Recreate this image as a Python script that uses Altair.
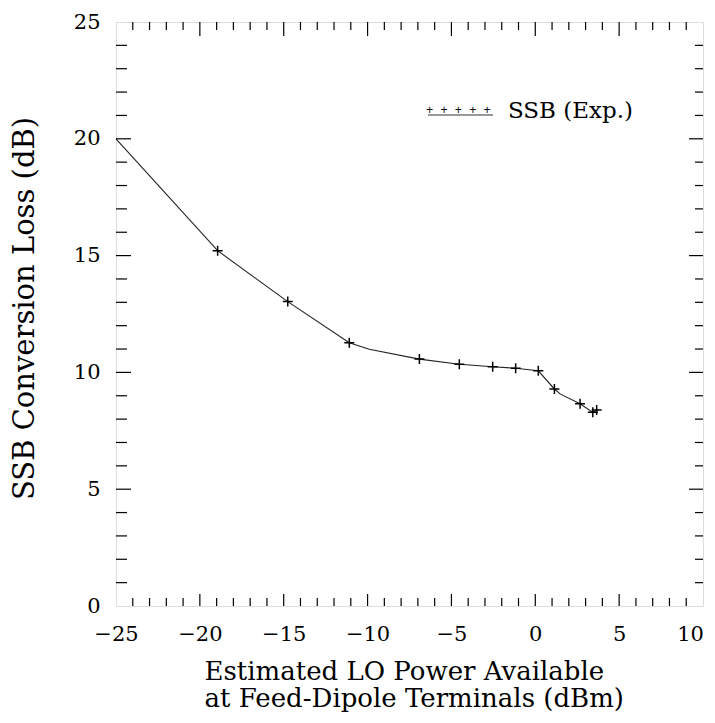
import altair as alt
import pandas as pd

# ---- data ----
line_x = [-25.0, -18.94, -14.76, -11.09, -9.9, -6.91, -4.53, -2.54, -1.17, 0.18, 1.14, 1.5, 2.67, 3.43, 3.66]
line_y = [20.0, 15.21, 13.03, 11.27, 10.99, 10.57, 10.35, 10.24, 10.18, 10.07, 9.29, 9.07, 8.66, 8.29, 8.39]
mark_x = [-18.94, -14.76, -11.09, -6.91, -4.53, -2.54, -1.17, 0.18, 1.14, 2.67, 3.43, 3.66]
mark_y = [15.21, 13.03, 11.27, 10.57, 10.35, 10.24, 10.18, 10.07, 9.29, 8.66, 8.29, 8.39]

x_labels = [-25, -20, -15, -10, -5, 0, 5, 10]
y_labels = [0, 5, 10, 15, 20, 25]
x_minor = [v for v in range(-24, 10) if v % 5 != 0]
x_major = [v for v in range(-20, 10) if v % 5 == 0]
y_minor = [v for v in range(1, 25) if v % 5 != 0]
y_major = [v for v in range(5, 25) if v % 5 == 0]

legend_label = "SSB (Exp.)"
legend_symbols = "+ + + + +"

W, H = 587, 584
SERIF = "DejaVu Serif"

xs = alt.Scale(domain=[-25, 10], nice=False, zero=False)
ys = alt.Scale(domain=[0, 25], nice=False, zero=False)

line_df = pd.DataFrame({"x": line_x, "y": line_y})
mark_df = pd.DataFrame({"x": mark_x, "y": mark_y})

x_axis = alt.Axis(values=x_labels, ticks=False, domain=False, grid=False,
                  labelFont=SERIF, labelFontSize=21, labelColor="black", labelPadding=17,
                  labelFlush=False, labelOverlap=False,
                  labelOffset={"condition": {"test": "datum.value === 10", "value": -13}, "value": 0},
                  title=["Estimated LO Power Available", "at Feed-Dipole Terminals (dBm)"],
                  titleFont=SERIF, titleFontSize=26, titleFontWeight="normal", titleColor="black",
                  titleAlign="left", titleAnchor="start", titleBaseline="alphabetic",
                  titleX=88, titleY=73, titleLineHeight=27)
y_axis = alt.Axis(values=y_labels, ticks=False, domain=False, grid=False,
                  labelFont=SERIF, labelFontSize=21, labelColor="black", labelPadding=16,
                  labelFlush=False, labelOverlap=False,
                  title="SSB Conversion Loss (dB)",
                  titleFont=SERIF, titleFontSize=29, titleFontWeight="normal", titleColor="black",
                  titleAngle=-90, titleAlign="center", titleBaseline="alphabetic",
                  titleX=-83, titleY=H / 2 - 6)

line = alt.Chart(line_df).mark_line(color="#222222", strokeWidth=1.1).encode(
    x=alt.X("x:Q", scale=xs, axis=x_axis),
    y=alt.Y("y:Q", scale=ys, axis=y_axis),
    order=alt.Order("x:Q"),
)

plus_path = "M-1,0L1,0M0,-1L0,1"
marks = alt.Chart(mark_df).mark_point(shape=plus_path, size=100, filled=False,
                                      color="black", strokeWidth=1.5, opacity=1).encode(
    x=alt.X("x:Q", scale=xs), y=alt.Y("y:Q", scale=ys))

def xticks(vals, y0, y1):
    return alt.Chart(pd.DataFrame({"v": vals})).mark_rule(color="black", strokeWidth=1.2).encode(
        x=alt.X("v:Q", scale=xs), y=alt.value(y0), y2=alt.value(y1))

def yticks(vals, x0, x1):
    return alt.Chart(pd.DataFrame({"v": vals})).mark_rule(color="black", strokeWidth=1.2).encode(
        y=alt.Y("v:Q", scale=ys), x=alt.value(x0), x2=alt.value(x1))

ticks = [
    xticks(x_minor, H, H - 8), xticks(x_major, H, H - 12),
    xticks(x_minor, 0, 8), xticks(x_major, 0, 14),
    yticks(y_minor, 0, 11), yticks(y_major, 0, 15),
    yticks(y_minor, W, W - 8), yticks(y_major, W, W - 14),
]

leg_plus = alt.Chart(pd.DataFrame({"t": [legend_symbols]})).mark_text(
    font="Liberation Mono", fontSize=12, align="left", baseline="middle", color="black").encode(
    text="t:N", x=alt.value(310), y=alt.value(88))
leg_line = alt.Chart(pd.DataFrame({"i": [0]})).mark_rule(color="#333333", strokeWidth=1).encode(
    x=alt.value(312), x2=alt.value(377), y=alt.value(93))
leg_text = alt.Chart(pd.DataFrame({"t": [legend_label]})).mark_text(
    font=SERIF, fontSize=23, align="left", baseline="alphabetic", color="black").encode(
    text="t:N", x=alt.value(392), y=alt.value(96))

chart = alt.layer(line, marks, *ticks, leg_plus, leg_line, leg_text).properties(
    width=W, height=H,
    autosize=alt.AutoSizeParams(type="none"),
    padding={"left": 108, "top": 14, "right": 4, "bottom": 109},
).configure_view(stroke="black", strokeWidth=1.5).configure(background="white")

chart.save("out.html", embed_options={"renderer": "svg", "actions": False})
